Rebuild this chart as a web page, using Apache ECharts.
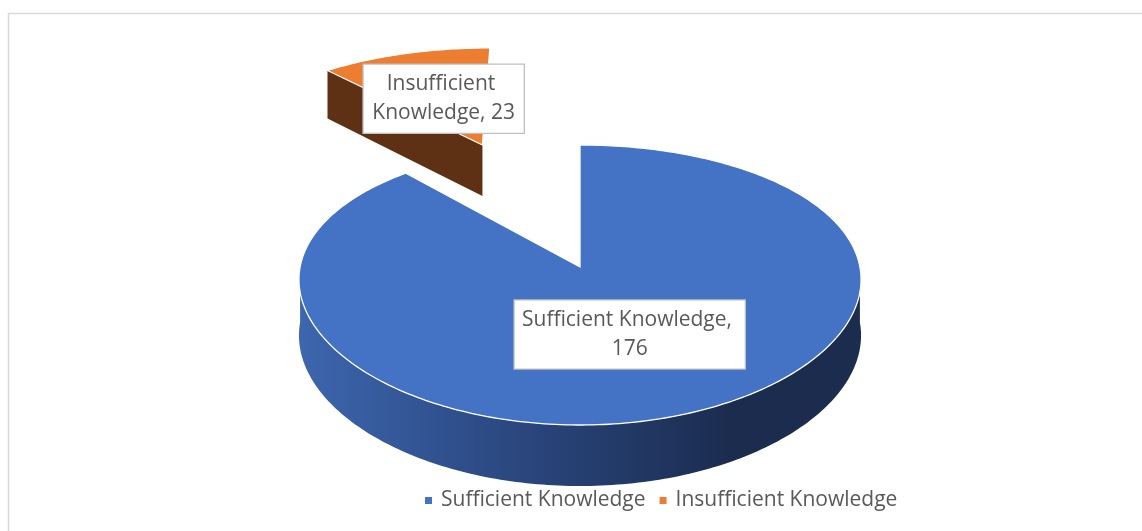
<!DOCTYPE html>
<html><head><meta charset="utf-8">
<script src="https://cdn.jsdelivr.net/npm/echarts@6/dist/echarts.min.js"></script>
<style>html,body{margin:0;padding:0;background:#fff}#c{width:1142px;height:531px}</style>
</head><body><div id="c"></div>
<script>
// ---- data ----
const categories = ['Sufficient Knowledge', 'Insufficient Knowledge'];
const values = [176, 23];

// ---- styles ----
const topColors = ['#4472C4', '#ED7D31'];
const radialColors = ['#22396a', '#5e3114'];
const sliceExplode = [0, 1.07];
const labelWidths = [216, 146];
const FONT = '"Open Sans", "Noto Sans", sans-serif';

const total = values.reduce((a, b) => a + b, 0);
// pseudo-3D projection of the pie disk (unit radius in disk space)
const G = {cx: 580, cy: 267, A: 279.9, B: 137.7, H: 55.5, kx: 0.09, ky: 0.1286, kh: 0.09};
function P(u, v, down) {
  return [G.cx + G.A * u / (1 + G.kx * v),
          G.cy - G.B * v / (1 + G.ky * v) + (down ? G.H / (1 + G.kh * v) : 0)];
}
const rad = d => d * Math.PI / 180;

function renderSlice(params, api) {
  const i = params.seriesIndex;
  const val = api.value(0);
  let cum = 0;
  for (let j = 0; j < i; j++) cum += values[j];
  const a0 = 90 - 360 * cum / total;
  const a1 = 90 - 360 * (cum + val) / total;
  const mid = rad((a0 + a1) / 2);
  const e = sliceExplode[i];
  const ou = e * Math.cos(mid), ov = e * Math.sin(mid);
  const rim = (a, down) => P(ou + Math.cos(rad(a)), ov + Math.sin(rad(a)), down);
  const arc = (from, to, down) => {
    const n = Math.max(2, Math.ceil(Math.abs(to - from)));
    const r = [];
    for (let k = 0; k <= n; k++) r.push(rim(from + (to - from) * k / n, down));
    return r;
  };
  const children = [];
  // radial (cut) faces facing the viewer
  [[a0, a0 + 90], [a1, a1 - 90]].forEach(([a, na]) => {
    if (Math.sin(rad(na)) < -0.01) {
      children.push({type: 'polygon', shape: {points: [P(ou, ov, false), rim(a, false), rim(a, true), P(ou, ov, true)]},
        style: {fill: radialColors[i]}});
    }
  });
  // outer curved side, front half only
  for (let k = -2; k <= 1; k++) {
    const lo = Math.max(a1, -180 + 360 * k), hi = Math.min(a0, 360 * k);
    if (hi > lo) {
      const pts = arc(lo, hi, false).concat(arc(hi, lo, true));
      children.push({type: 'polygon', shape: {points: pts},
        style: {fill: {type: 'linear', x: 300, y: 0, x2: 730, y2: 0, global: true,
          colorStops: [{offset: 0, color: '#3d66ae'}, {offset: 0.45, color: '#2c4a84'}, {offset: 1, color: '#1b2c4f'}]}}});
    }
  }
  // top face
  children.push({type: 'polygon', shape: {points: [P(ou, ov, false)].concat(arc(a0, a1, false))},
    style: {fill: topColors[i], stroke: '#ffffff', lineWidth: 1.3}});
  // data label
  const d = e + 0.48;
  const lp = P(d * Math.cos(mid), d * Math.sin(mid), false);
  children.push({type: 'text', z2: 20, style: {
    text: categories[i] + ', ' + val, x: lp[0], y: lp[1] + (i === 0 ? 2 : 0), align: 'center', verticalAlign: 'middle',
    font: '21px ' + FONT, fill: '#595959', width: labelWidths[i], overflow: 'break', lineHeight: 29,
    backgroundColor: '#ffffff', borderColor: '#bfbfbf', borderWidth: 1.3, padding: [5, 7]}});
  return {type: 'group', children};
}

const chart = echarts.init(document.getElementById('c'), null, {renderer: 'canvas'});
chart.setOption({
  animation: false,
  backgroundColor: '#ffffff',
  graphic: [{type: 'rect', shape: {x: 8.5, y: 13.5, width: 1300, height: 700},
    style: {fill: 'transparent', stroke: '#d9d9d9', lineWidth: 1.5}, silent: true}],
  legend: {
    data: categories, left: 425, top: 490, padding: 0, itemGap: 14,
    icon: 'rect', itemWidth: 7, itemHeight: 7,
    textStyle: {fontFamily: FONT, fontSize: 21, color: '#595959', padding: [0, 0, 0, 4]}
  },
  series: categories.map((name, i) => ({
    type: 'custom', name: name, coordinateSystem: 'none',
    itemStyle: {color: topColors[i]},
    data: [[values[i]]],
    renderItem: renderSlice
  }))
});
</script></body></html>
